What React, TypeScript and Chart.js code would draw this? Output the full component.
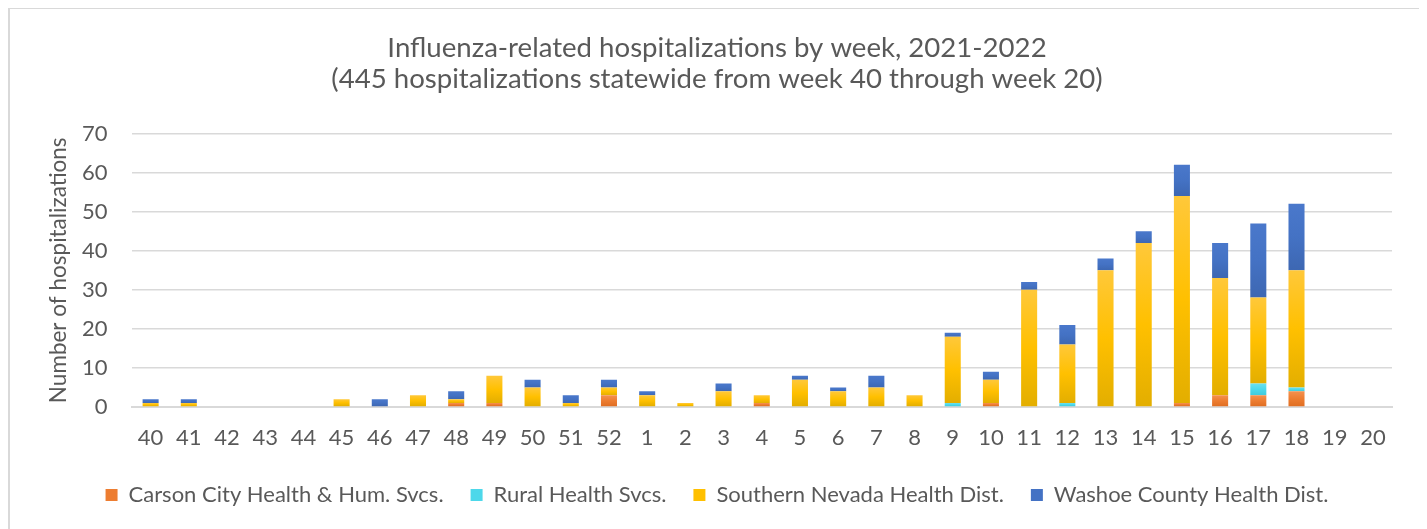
import React, { useEffect, useRef } from "react";
import { Chart, registerables } from "chart.js";

Chart.register(...registerables);

const weeks = [
  "40", "41", "42", "43", "44", "45", "46", "47", "48", "49", "50", "51", "52",
  "1", "2", "3", "4", "5", "6", "7", "8", "9", "10", "11", "12", "13", "14", "15", "16", "17", "18", "19", "20",
];

const carsonCity = [0, 0, 0, 0, 0, 0, 0, 0, 1, 1, 0, 0, 3, 0, 0, 0, 1, 0, 0, 0, 0, 0, 1, 0, 0, 0, 0, 1, 3, 3, 4, 0, 0];
const ruralHealth = [0, 0, 0, 0, 0, 0, 0, 0, 0, 0, 0, 0, 0, 0, 0, 0, 0, 0, 0, 0, 0, 1, 0, 0, 1, 0, 0, 0, 0, 3, 1, 0, 0];
const southernNevada = [1, 1, 0, 0, 0, 2, 0, 3, 1, 7, 5, 1, 2, 3, 1, 4, 2, 7, 4, 5, 3, 17, 6, 30, 15, 35, 42, 53, 30, 22, 30, 0, 0];
const washoeCounty = [1, 1, 0, 0, 0, 0, 2, 0, 2, 0, 2, 2, 2, 1, 0, 2, 0, 1, 1, 3, 0, 1, 2, 2, 5, 3, 3, 8, 9, 19, 17, 0, 0];

const seriesNames = [
  "Carson City Health & Hum. Svcs.",
  "Rural Health Svcs.",
  "Southern Nevada Health Dist.",
  "Washoe County Health Dist.",
];

const TEXT = "#595959";
const FONT = "Lato";

const gradStops: string[][] = [
  ["#F4914F", "#ED7D31", "#E06E22"],
  ["#6BE0EE", "#4DD8EA", "#3FCBDD"],
  ["#FFC83A", "#FFC000", "#E3AE00"],
  ["#4A78CB", "#4472C4", "#3D67B2"],
];
const flatColors = ["#ED7D31", "#4DD8EA", "#FFC000", "#4472C4"];

const gradientPlugin = {
  id: "segGradient",
  beforeDatasetsDraw(chart: any) {
    const ctx = chart.ctx;
    chart.data.datasets.forEach((_ds: any, i: number) => {
      const meta = chart.getDatasetMeta(i);
      const stops = gradStops[i];
      meta.data.forEach((el: any) => {
        const { y, base } = el.getProps(["y", "base"], true);
        if (!isFinite(y) || !isFinite(base) || Math.abs(base - y) < 0.5) return;
        const g = ctx.createLinearGradient(0, y, 0, base);
        g.addColorStop(0, stops[0]);
        g.addColorStop(0.5, stops[1]);
        g.addColorStop(1, stops[2]);
        el.options.backgroundColor = g;
      });
    });
  },
};

export default function App() {
  const ref = useRef<HTMLCanvasElement>(null);

  useEffect(() => {
    if (!ref.current) return;
    const seriesData = [carsonCity, ruralHealth, southernNevada, washoeCounty];
    const chart = new Chart(ref.current, {
      type: "bar",
      data: {
        labels: weeks,
        datasets: seriesData.map((d, i) => ({
          label: seriesNames[i],
          data: d,
          backgroundColor: () => flatColors[i],
          borderWidth: 0,
          barPercentage: 0.42,
          categoryPercentage: 1,
        })),
      },
      plugins: [gradientPlugin],
      options: {
        responsive: false,
        animation: false,
        layout: { padding: { left: 32, right: 27, top: 11, bottom: 23 } },
        plugins: {
          title: {
            display: true,
            text: [
              "Influenza-related hospitalizations by week, 2021-2022",
              "(445 hospitalizations statewide from week 40 through week 20)",
            ],
            color: TEXT,
            font: { family: FONT, size: 27.6, weight: "normal", lineHeight: 1.14 },
            padding: { top: 12, bottom: 38.6 },
          },
          legend: {
            position: "bottom",
            labels: {
              color: TEXT,
              font: { family: FONT, size: 22 },
              boxWidth: 12,
              boxHeight: 12,
              padding: 27,
              generateLabels: (c: any) =>
                c.data.datasets.map((ds: any, i: number) => ({
                  text: ds.label,
                  fillStyle: flatColors[i],
                  strokeStyle: flatColors[i],
                  lineWidth: 0,
                  hidden: false,
                  datasetIndex: i,
                  fontColor: TEXT,
                })),
            },
          },
          tooltip: { enabled: false },
        },
        scales: {
          x: {
            stacked: true,
            grid: {
              display: true,
              drawOnChartArea: false,
              color: "rgba(0,0,0,0)",
              drawTicks: true,
              tickLength: 12.6,
              tickColor: "rgba(0,0,0,0)",
            },
            border: { display: true, color: "#D9D9D9", width: 2 },
            ticks: {
              color: TEXT,
              font: { family: FONT, size: 22, lineHeight: 1.7 },
              padding: 0,
              maxRotation: 0,
              autoSkip: false,
            },
          },
          y: {
            stacked: true,
            min: 0,
            max: 70,
            grid: {
              color: "#D9D9D9",
              lineWidth: 1.6,
              drawTicks: true,
              tickLength: 24,
              tickColor: "rgba(0,0,0,0)",
            },
            border: { display: false },
            ticks: {
              stepSize: 10,
              color: TEXT,
              font: { family: FONT, size: 22 },
              padding: 0,
            },
            title: {
              display: true,
              text: "Number of hospitalizations",
              color: TEXT,
              font: { family: FONT, size: 22.5, lineHeight: 1.2 },
              padding: { top: 3, bottom: 10 },
            },
          },
        },
      } as any,
    });
    return () => chart.destroy();
  }, []);

  return (
    <div
      style={{
        border: "2px solid #D9D9D9",
        width: 1409,
        height: 530,
        marginTop: -1,
        background: "#fff",
      }}
    >
      <canvas ref={ref} width={1409} height={530} style={{ display: "block" }} />
    </div>
  );
}
